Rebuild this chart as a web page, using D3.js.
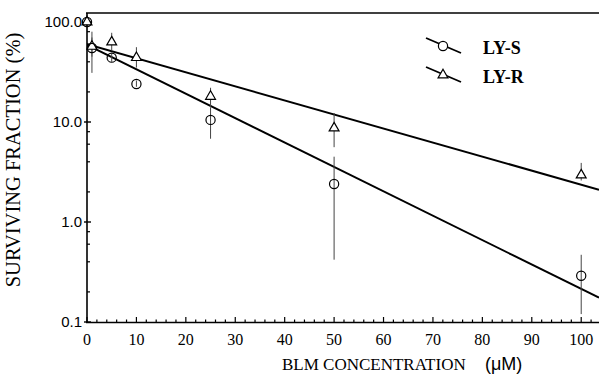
<!DOCTYPE html>
<html>
<head>
<meta charset="utf-8">
<script src="https://cdn.jsdelivr.net/npm/d3@7"></script>
<style>
  body { margin: 0; background: #fff; }
  svg { display: block; }
</style>
</head>
<body>
<script>
// data
var conc = [0, 1, 5, 10, 25, 50, 100];
var lySValues = [100, 55, 44, 24, 10.5, 2.4, 0.29];
var lySLow = [null, 31, 40, 22.5, 6.8, 0.42, 0.12];
var lySHigh = [null, 80, 48, 26, 14, 4.5, 0.47];
var lyRValues = [100, 57, 63, 44, 18, 8.7, 2.95];
var lyRLow = [null, 45, 52, 35, 14, 5.6, 2.6];
var lyRHigh = [null, 70, 78, 56, 22, 12.3, 3.9];

// regression lines (end points)
var fitConc = [0, 103.6];
var fitS = [59, 0.175];
var fitR = [60, 2.1];

var xTicks = [0, 10, 20, 30, 40, 50, 60, 70, 80, 90, 100];
var yTicks = [0.1, 1, 10, 100];
var yTickLabels = ["0.1", "1.0", "10.0", "100.0"];

var svgWidth = 599;
var svgHeight = 375;

var svg = d3.select("body")
  .append("svg")
  .attr("width", svgWidth)
  .attr("height", svgHeight);

var x = d3.scaleLinear().domain([0, 103.6]).range([87, 599]);
var y = d3.scaleLog().domain([0.1, 100]).range([322, 22]);
var yTop = 13;

// frame: left axis, bottom axis, top line
svg.append("line")
  .attr("x1", 87).attr("x2", 87).attr("y1", yTop).attr("y2", 323)
  .attr("stroke", "#000").attr("stroke-width", 1.6);
svg.append("line")
  .attr("x1", 86).attr("x2", 599).attr("y1", 322.5).attr("y2", 322.5)
  .attr("stroke", "#000").attr("stroke-width", 1.6);
svg.append("line")
  .attr("x1", 86).attr("x2", 599).attr("y1", yTop).attr("y2", yTop)
  .attr("stroke", "#000").attr("stroke-width", 1.6);

// x ticks (inward)
var xMinor = d3.range(0, 104, 2);
svg.append("g").selectAll("line")
  .data(xMinor)
  .enter()
  .append("line")
  .attr("x1", d => x(d)).attr("x2", d => x(d))
  .attr("y1", 322)
  .attr("y2", d => d % 10 === 0 ? 317 : 319.5)
  .attr("stroke", "#000").attr("stroke-width", 1.2);

svg.append("g").selectAll("text")
  .data(xTicks)
  .enter()
  .append("text")
  .attr("x", d => x(d))
  .attr("y", 345)
  .attr("text-anchor", "middle")
  .attr("font-family", "'Liberation Serif', 'Times New Roman', serif")
  .attr("font-size", "16px")
  .text(d => d);

// y ticks
var yMinor = [];
[0.1, 1, 10].forEach(function(dec) {
  [2, 4, 6, 8].forEach(function(m) { yMinor.push(dec * m); });
});
svg.append("g").selectAll("line")
  .data(yMinor)
  .enter()
  .append("line")
  .attr("x1", 87).attr("x2", 90)
  .attr("y1", d => y(d)).attr("y2", d => y(d))
  .attr("stroke", "#000").attr("stroke-width", 1.2);

svg.append("g").selectAll("line")
  .data(yTicks)
  .enter()
  .append("line")
  .attr("x1", 84).attr("x2", 91)
  .attr("y1", d => y(d)).attr("y2", d => y(d))
  .attr("stroke", "#000").attr("stroke-width", 1.4);

svg.append("g").selectAll("text")
  .data(yTicks)
  .enter()
  .append("text")
  .attr("x", 82)
  .attr("y", d => y(d))
  .attr("dy", "0.36em")
  .attr("text-anchor", "end")
  .attr("font-family", "'Liberation Sans', Arial, sans-serif")
  .attr("font-size", "15px")
  .text((d, i) => yTickLabels[i]);

// axis titles
var xTitle = svg.append("text")
  .attr("x", 282)
  .attr("y", 370)
  .attr("font-family", "'Liberation Serif', 'Times New Roman', serif")
  .attr("font-size", "17px");
xTitle.append("tspan").text("BLM CONCENTRATION");
xTitle.append("tspan")
  .attr("x", 485)
  .attr("font-family", "'Liberation Sans', Arial, sans-serif")
  .attr("font-size", "18px")
  .text("(\u03bcM)");

svg.append("text")
  .attr("transform", "translate(20, 160) rotate(-90)")
  .attr("text-anchor", "middle")
  .attr("font-family", "'Liberation Serif', 'Times New Roman', serif")
  .attr("font-size", "20.5px")
  .text("SURVIVING FRACTION (%)");

// plot area clip
svg.append("clipPath").attr("id", "plotClip")
  .append("rect")
  .attr("x", 87).attr("y", yTop).attr("width", 512).attr("height", 322 - yTop);

var plot = svg.append("g").attr("clip-path", "url(#plotClip)");

// regression lines
var fitLine = d3.line()
  .x(d => x(d[0]))
  .y(d => y(d[1]));

plot.append("path")
  .datum(fitConc.map((c, i) => [c, fitS[i]]))
  .attr("d", fitLine)
  .attr("fill", "none").attr("stroke", "#000").attr("stroke-width", 2);

plot.append("path")
  .datum(fitConc.map((c, i) => [c, fitR[i]]))
  .attr("d", fitLine)
  .attr("fill", "none").attr("stroke", "#000").attr("stroke-width", 2);

// error bars
function errorBars(values, low, high) {
  var rows = conc.map((c, i) => ({ c: c, v: values[i], lo: low[i], hi: high[i] }))
    .filter(d => d.lo !== null);
  svg.append("g").selectAll("line")
    .data(rows)
    .enter()
    .append("line")
    .attr("x1", d => x(d.c)).attr("x2", d => x(d.c))
    .attr("y1", d => y(d.lo)).attr("y2", d => y(d.hi))
    .attr("stroke", "#444").attr("stroke-width", 1);
}
errorBars(lySValues, lySLow, lySHigh);
errorBars(lyRValues, lyRLow, lyRHigh);

// markers
var triangle = d3.symbol().type(d3.symbolTriangle).size(42);

svg.append("g").selectAll("path")
  .data(conc)
  .enter()
  .append("path")
  .attr("d", triangle)
  .attr("transform", (d, i) => `translate(${x(d)}, ${y(lyRValues[i])})`)
  .attr("fill", "#fff").attr("stroke", "#000").attr("stroke-width", 1.2);

svg.append("g").selectAll("circle")
  .data(conc)
  .enter()
  .append("circle")
  .attr("cx", d => x(d))
  .attr("cy", (d, i) => y(lySValues[i]))
  .attr("r", 4.6)
  .attr("fill", "none").attr("stroke", "#000").attr("stroke-width", 1.2);

// legend
var legend = svg.append("g");
legend.append("line")
  .attr("x1", 426).attr("y1", 38).attr("x2", 461).attr("y2", 53)
  .attr("stroke", "#000").attr("stroke-width", 1.8);
legend.append("circle")
  .attr("cx", 443).attr("cy", 46).attr("r", 4.6)
  .attr("fill", "#fff").attr("stroke", "#000").attr("stroke-width", 1.2);
legend.append("line")
  .attr("x1", 426).attr("y1", 67).attr("x2", 461).attr("y2", 82)
  .attr("stroke", "#000").attr("stroke-width", 1.8);
legend.append("path")
  .attr("d", triangle)
  .attr("transform", "translate(443, 75)")
  .attr("fill", "#fff").attr("stroke", "#000").attr("stroke-width", 1.2);

legend.append("text")
  .attr("x", 483).attr("y", 54)
  .attr("font-family", "'Liberation Serif', 'Times New Roman', serif")
  .attr("font-weight", "bold")
  .attr("font-size", "18px")
  .text("LY-S");
legend.append("text")
  .attr("x", 483).attr("y", 83)
  .attr("font-family", "'Liberation Serif', 'Times New Roman', serif")
  .attr("font-weight", "bold")
  .attr("font-size", "18px")
  .text("LY-R");
</script>
</body>
</html>
